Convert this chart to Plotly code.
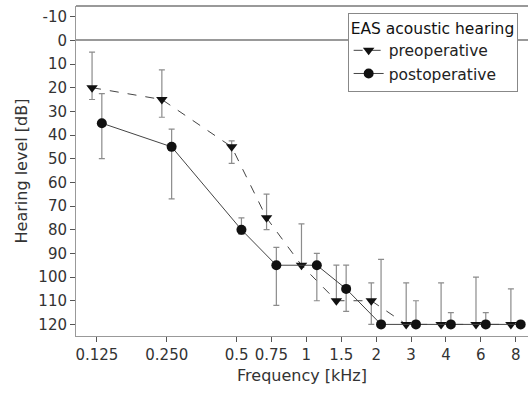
import plotly.graph_objects as go

# ---- data ----
freq_labels = ["0.125", "0.250", "0.5", "0.75", "1", "1.5", "2", "3", "4", "6", "8"]
tick_pos = [0, 2, 4, 5, 6, 7, 8, 9, 10, 11, 12]
level_ticks = [-10, 0, 10, 20, 30, 40, 50, 60, 70, 80, 90, 100, 110, 120]
level_labels = ["-10", "0", "10", "20", "30", "40", "50", "60", "70", "80", "90", "100", "110", "120"]

pre_level = [20, 25, 45, 75, 95, 110, 110, 120, 120, 120, 120]
pre_err_up = [15, 12.5, 2.5, 10, 17.5, 15, 7.5, 17.5, 17.5, 20, 15]      # toward lower dB
pre_err_down = [5, 7.5, 7, 5, 0, 0, 10, 0, 0, 0, 0]                       # toward higher dB

post_level = [35, 45, 80, 95, 95, 105, 120, 120, 120, 120, 120]
post_err_up = [12.5, 7.5, 5, 7.5, 5, 10, 27.5, 10, 5, 5, 0]
post_err_down = [15, 22, 2, 17, 15, 9.5, 0, 0, 0, 0, 0]

# ---- styling / layout ----
pre_dodge = -0.14
post_dodge = [0.14, 0.14, 0.14, 0.14, 0.3, 0.14, 0.14, 0.14, 0.14, 0.14, 0.14]
pre_x = [p + pre_dodge for p in tick_pos]
post_x = [p + d for p, d in zip(tick_pos, post_dodge)]

FONT = "DejaVu Sans"
GRAY = "#8c8c8c"

fig = go.Figure()
fig.add_trace(go.Scatter(
    x=pre_x, y=pre_level, mode="lines+markers", name="preoperative",
    line=dict(color="#444444", width=1, dash="dash"),
    marker=dict(symbol="triangle-down", size=10, color="#111111"),
    error_y=dict(type="data", symmetric=False, array=pre_err_down, arrayminus=pre_err_up,
                 color=GRAY, thickness=1.2, width=3),
))
fig.add_trace(go.Scatter(
    x=post_x, y=post_level, mode="lines+markers", name="postoperative",
    line=dict(color="#444444", width=1),
    marker=dict(symbol="circle", size=10, color="#111111"),
    error_y=dict(type="data", symmetric=False, array=post_err_down, arrayminus=post_err_up,
                 color=GRAY, thickness=1.2, width=3),
))

fig.add_shape(type="line", xref="paper", yref="paper", x0=0, x1=1, y0=1, y1=1,
              line=dict(color="#999999", width=2))

fig.update_layout(
    width=528, height=393,
    margin=dict(l=76, r=0, t=6, b=57),
    paper_bgcolor="white", plot_bgcolor="white",
    font=dict(family=FONT, size=15, color="#333333"),
    showlegend=True,
    legend=dict(
        title=dict(text="EAS acoustic hearing", font=dict(family=FONT, size=15.5, color="#111111")),
        x=0.601, y=0.98, xanchor="left", yanchor="top",
        bordercolor="#888888", borderwidth=1, bgcolor="white",
        font=dict(family=FONT, size=15.5, color="#222222"),
        itemwidth=30, tracegroupgap=0,
    ),
    xaxis=dict(
        range=[-0.6, 12.35], tickmode="array", tickvals=tick_pos, ticktext=freq_labels,
        showgrid=False, zeroline=False, showline=True, linecolor="#999999", linewidth=1,
        ticks="outside", ticklen=5, tickcolor="#555555",
        title=dict(text="Frequency [kHz]", font=dict(family=FONT, size=16, color="#333333"), standoff=6),
        tickfont=dict(family=FONT, size=15, color="#333333"),
    ),
    yaxis=dict(
        range=[124.9, -14.5], tickmode="array", tickvals=level_ticks, ticktext=level_labels,
        showgrid=False, zeroline=True, zerolinecolor="#999999", zerolinewidth=1.5,
        showline=True, linecolor="#999999", linewidth=1,
        ticks="outside", ticklen=5, tickcolor="#555555",
        title=dict(text="Hearing level [dB]", font=dict(family=FONT, size=16, color="#333333"), standoff=6),
        tickfont=dict(family=FONT, size=15, color="#333333"),
    ),
)

fig.write_html("out.html")
